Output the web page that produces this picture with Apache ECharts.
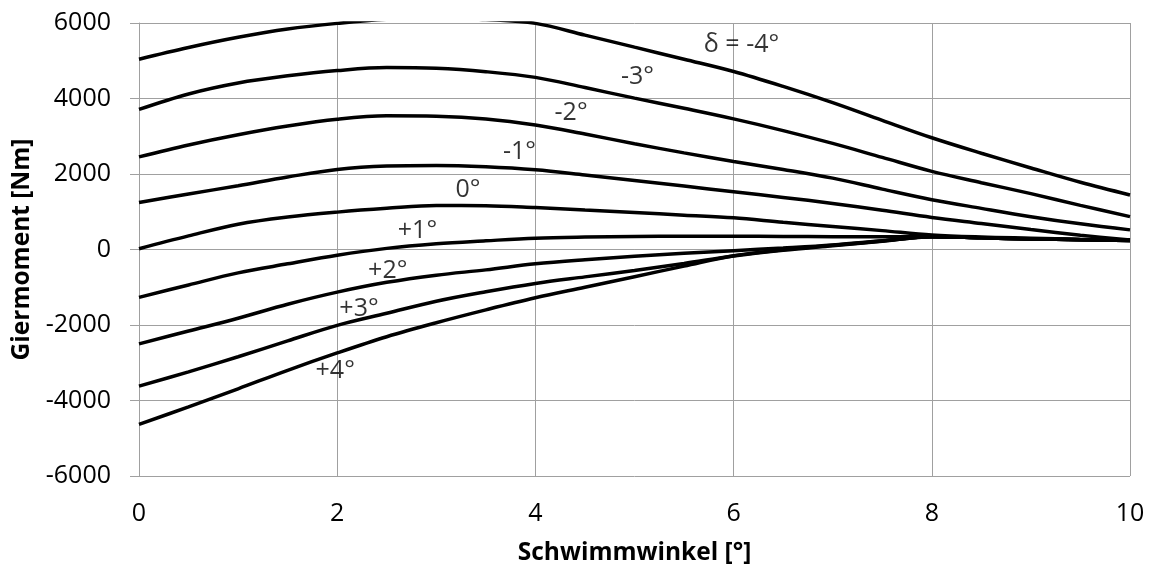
<!DOCTYPE html>
<html>
<head>
<meta charset="utf-8">
<script src="https://cdn.jsdelivr.net/npm/echarts@6/dist/echarts.min.js"></script>
<style>
html,body{margin:0;padding:0;background:#fff;}
#chart{width:1153px;height:567px;}
</style>
</head>
<body>
<div id="chart"></div>
<script>
// Schwimmwinkel [°]
const xs = [0,0.5,1,1.5,2,2.5,3,3.5,4,4.5,5,5.5,6,6.5,7,7.5,8,8.5,9,9.5,10];
// Giermoment [Nm] for each steering angle δ
const d_m4 = [5040,5350,5620,5840,5990,6100,6130,6090,5990,5680,5360,5040,4715,4320,3890,3420,2960,2550,2160,1780,1445];
const d_m3 = [3710,4120,4410,4600,4740,4820,4800,4710,4560,4290,4010,3740,3460,3150,2810,2440,2070,1770,1480,1170,870];
const d_m2 = [2455,2770,3040,3270,3450,3540,3530,3460,3300,3060,2800,2560,2330,2120,1890,1600,1320,1090,870,680,520];
const d_m1 = [1245,1470,1690,1920,2120,2210,2225,2190,2110,1975,1830,1680,1530,1380,1220,1040,850,690,530,380,250];
const d_0  = [20,360,670,860,990,1090,1165,1160,1110,1045,980,910,840,720,610,500,385,330,300,270,250];
const d_p1 = [-1268,-940,-620,-380,-150,30,150,230,300,330,345,350,350,345,340,340,340,310,280,260,240];
const d_p2 = [-2500,-2160,-1820,-1450,-1130,-870,-680,-540,-380,-270,-180,-100,-30,40,120,230,340,310,280,260,240];
const d_p3 = [-3620,-3240,-2840,-2420,-2010,-1690,-1370,-1120,-900,-725,-555,-370,-170,-20,100,220,340,310,280,260,240];
const d_p4 = [-4630,-4170,-3690,-3200,-2740,-2310,-1940,-1600,-1280,-1000,-720,-440,-165,-10,110,225,340,310,280,260,240];

// Curve labels
const labelNames = ['δ = -4°','-3°','-2°','-1°','0°','+1°','+2°','+3°','+4°'];
const labelX = [6.08,5.03,4.36,3.84,3.32,2.81,2.51,2.22,1.98];
const labelY = [5420,4570,3620,2590,1580,490,-570,-1580,-3220];

const xTitle = 'Schwimmwinkel [°]';
const yTitle = 'Giermoment [Nm]';

const allCurves = [d_m4,d_m3,d_m2,d_m1,d_0,d_p1,d_p2,d_p3,d_p4];
const FONT = '"Open Sans", "Noto Sans", sans-serif';

const chart = echarts.init(document.getElementById('chart'), null, {renderer:'canvas'});
const series = allCurves.map(ys => ({
  type:'line',
  data: xs.map((x,i)=>[x, ys[i]]),
  smooth: 0.35,
  showSymbol:false,
  symbol:'none',
  clip:true,
  lineStyle:{color:'#000', width:3.5},
  z:3
}));
series.push({
  type:'scatter',
  data: labelX.map((x,i)=>[x, labelY[i]]),
  symbolSize:0,
  silent:true,
  z:5,
  label:{
    show:true,
    position:'inside',
    formatter: p => labelNames[p.dataIndex],
    color:'#000',
    fontFamily: FONT,
    fontSize:25
  }
});

chart.setOption({
  animation:false,
  backgroundColor:'#fff',
  grid:{left:139, right:23, top:23, bottom:91, containLabel:false, outerBoundsMode:'none'},
  xAxis:{
    type:'value', min:0, max:10, interval:2,
    name:xTitle, nameLocation:'middle', nameGap:65,
    nameTextStyle:{fontFamily:FONT, fontWeight:'bold', fontSize:24.5, color:'#000'},
    axisLine:{show:true, lineStyle:{color:'#a0a0a0', width:1}},
    axisTick:{show:true, inside:false, length:9, lineStyle:{color:'#a0a0a0'}},
    axisLabel:{margin:25, fontFamily:FONT, fontSize:25, color:'#000', formatter: v => String(v)},
    splitLine:{show:true, lineStyle:{color:'#a0a0a0', width:1}}
  },
  yAxis:{
    type:'value', min:-6000, max:6000, interval:2000,
    name:yTitle, nameLocation:'middle', nameGap:100, nameRotate:90,
    nameTextStyle:{fontFamily:FONT, fontWeight:'bold', fontSize:24.5, color:'#000'},
    axisLine:{show:true, lineStyle:{color:'#a0a0a0', width:1}},
    axisTick:{show:true, inside:false, length:9, lineStyle:{color:'#a0a0a0'}},
    axisLabel:{margin:28, fontFamily:FONT, fontSize:25, color:'#000', formatter: v => String(v)},
    splitLine:{show:true, lineStyle:{color:'#a0a0a0', width:1}}
  },
  series: series
});
</script>
</body>
</html>
